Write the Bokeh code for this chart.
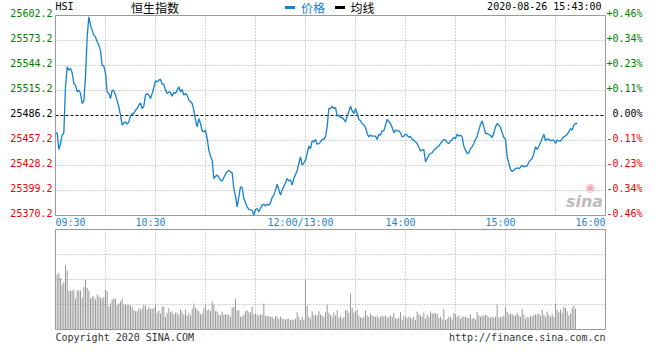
from bokeh.plotting import figure
from bokeh.layouts import column
from bokeh.models import Range1d
from bokeh.core.properties import value
from bokeh.embed import file_html
from bokeh.resources import INLINE

# ---------------- data ----------------
title_code = "HSI"
title_name = "恒生指数"
legend_price = "价格"
legend_avg = "均线"
timestamp = "2020-08-26 15:43:00"
prev_close = 25486.2
price_ticks = [25602.2, 25573.2, 25544.2, 25515.2, 25486.2, 25457.2, 25428.2, 25399.2, 25370.2]
price_tick_labels = ["25602.2", "25573.2", "25544.2", "25515.2", "25486.2", "25457.2", "25428.2", "25399.2", "25370.2"]
pct_tick_labels = ["+0.46%", "+0.34%", "+0.23%", "+0.11%", "0.00%", "-0.11%", "-0.23%", "-0.34%", "-0.46%"]
time_labels = ["09:30", "10:30", "12:00/13:00", "14:00", "15:00", "16:00"]
time_label_minutes = [0, 60, 150, 210, 270, 330]   # trading minutes since open
session_minutes = 330
footer_left = "Copyright 2020 SINA.COM"
footer_right = "http://finance.sina.com.cn"
watermark = "sina"

# one price per trading minute from 09:30 (minute 0) to 15:43 (minute 313)
prices = [
    25466.1, 25466.1, 25446.8, 25453.7, 25463.4, 25466.1, 25519.5, 25542.6, 25538.8, 25540.7,
    25535.7, 25523.3, 25521.4, 25513.7, 25515.6, 25511.7, 25500.1, 25502.8, 25531.0, 25577.4,
    25600.7, 25591.0, 25585.2, 25579.4, 25577.4, 25571.7, 25567.8, 25561.2, 25544.6, 25543.4,
    25534.9, 25513.6, 25511.7, 25505.9, 25515.6, 25514.8, 25509.8, 25503.2, 25496.3, 25486.6,
    25475.0, 25477.7, 25478.9, 25476.1, 25478.9, 25485.4, 25488.5, 25488.5, 25492.4, 25494.3,
    25498.2, 25500.9, 25494.3, 25497.0, 25509.8, 25511.7, 25509.8, 25505.9, 25511.7, 25518.7,
    25526.4, 25525.2, 25527.2, 25528.0, 25522.5, 25522.5, 25515.6, 25511.7, 25513.6, 25512.9,
    25508.6, 25512.9, 25511.7, 25515.6, 25519.5, 25513.6, 25516.4, 25509.8, 25511.7, 25509.8,
    25504.0, 25502.1, 25500.1, 25492.4, 25480.8, 25473.0, 25482.7, 25476.9, 25468.4, 25467.2,
    25469.2, 25459.5, 25446.0, 25439.0, 25434.4, 25413.1, 25415.8, 25417.0, 25414.3, 25411.2,
    25410.4, 25414.3, 25418.1, 25420.8, 25422.8, 25420.8, 25419.7, 25401.5, 25392.6, 25380.3,
    25391.9, 25403.5, 25402.7, 25389.9, 25385.0, 25380.3, 25377.2, 25376.7, 25376.4, 25370.6,
    25377.2, 25378.3, 25374.5, 25378.3, 25382.2, 25383.3, 25381.4, 25383.3, 25382.2, 25384.9,
    25391.1, 25393.8, 25399.6, 25406.5, 25400.4, 25393.8, 25399.6, 25404.2, 25408.1, 25413.1,
    25410.4, 25411.2, 25405.4, 25413.1, 25417.8, 25422.0, 25430.5, 25438.3, 25428.6, 25431.3,
    25434.4, 25442.1, 25450.6, 25447.9, 25456.8, 25455.6, 25458.4, 25452.9, 25453.7, 25455.6,
    25458.4, 25458.4, 25461.4, 25473.0, 25494.3, 25494.3, 25497.0, 25494.3, 25495.5, 25485.4,
    25486.6, 25483.9, 25483.9, 25481.6, 25478.9, 25485.4, 25490.5, 25497.0, 25491.6, 25488.5,
    25494.3, 25488.5, 25481.6, 25480.0, 25476.9, 25475.0, 25472.3, 25465.3, 25461.4, 25463.4,
    25462.2, 25462.2, 25462.2, 25458.4, 25464.5, 25463.4, 25468.4, 25468.4, 25475.0, 25481.6,
    25478.9, 25476.9, 25472.3, 25466.1, 25469.2, 25468.4, 25468.4, 25466.1, 25461.4, 25462.2,
    25464.5, 25463.4, 25460.7, 25462.2, 25458.4, 25457.6, 25455.6, 25453.7, 25449.1, 25445.2,
    25446.0, 25446.8, 25432.4, 25436.3, 25440.2, 25442.1, 25442.9, 25446.0, 25447.5, 25449.9,
    25450.6, 25453.7, 25456.4, 25458.4, 25457.6, 25454.9, 25453.7, 25456.4, 25458.4, 25460.7,
    25459.5, 25464.5, 25462.2, 25463.4, 25461.4, 25450.6, 25446.0, 25442.1, 25442.9, 25448.0,
    25449.9, 25453.7, 25458.4, 25462.2, 25469.2, 25476.1, 25480.0, 25473.0, 25465.3, 25465.3,
    25464.2, 25463.0, 25460.7, 25466.1, 25473.0, 25476.9, 25475.0, 25472.3, 25466.1, 25460.7,
    25458.4, 25438.3, 25430.5, 25423.6, 25421.2, 25422.8, 25424.7, 25425.5, 25424.7, 25425.9,
    25428.6, 25426.7, 25427.4, 25427.4, 25432.4, 25434.4, 25436.3, 25442.1, 25449.9, 25446.8,
    25450.6, 25454.5, 25459.5, 25464.5, 25456.8, 25459.1, 25458.4, 25456.8, 25457.6, 25457.6,
    25453.7, 25457.6, 25456.8, 25456.4, 25459.5, 25461.4, 25462.6, 25464.2, 25467.2, 25471.1,
    25469.2, 25475.0, 25476.9, 25476.9,
]

# one volume bar per trading minute, from minute 1 to minute 312 (relative units, panel top = 400)
volumes = [
    220, 227, 207, 180, 189, 256, 236, 153, 156, 156, 160, 124, 156, 156, 156, 127, 171, 200, 167, 156,
    124, 132, 132, 120, 140, 131, 127, 124, 129, 160, 153,
    92, 104, 120, 124, 124, 97, 104, 112, 124, 100, 99, 99, 99, 96, 91, 76, 73, 73, 85, 80,
    85, 99, 96, 80, 89, 83, 83, 85, 99, 67, 76, 64, 93, 91, 51, 67, 84, 69, 73, 60,
    67, 67, 59, 80, 73, 60, 80, 56, 67, 56, 83, 104, 87, 79, 73, 60, 64, 85, 99, 77,
    80, 73, 112, 99, 73, 73, 60, 56, 72, 59, 61, 59, 59, 51, 88, 91, 124, 77, 77, 51,
    53, 60, 73, 77, 69, 69, 91, 60, 64, 60, 56, 60, 60, 104, 53, 56, 53, 51, 51, 43,
    53, 51, 43, 51, 43, 43, 40, 43, 43, 37, 40, 37, 43, 69, 51, 37, 51, 40,
    197,
    96, 51, 43, 73, 56, 60, 56, 73, 60, 56, 51, 69, 100, 67, 59, 51, 69, 56, 77, 47,
    56, 43, 51, 77, 77, 67,
    144,
    87, 69, 73, 80, 56, 47, 47, 51, 77, 56, 51, 64, 56, 53, 51, 56, 47, 51, 56, 51,
    56, 47, 51, 56, 51, 67, 45, 43, 47, 69, 40, 56, 51, 47, 51, 47, 43, 51, 37, 72,
    60, 56, 51, 69, 43, 59, 51, 72, 64, 67, 64, 64, 47, 51, 40, 83, 37, 43, 51, 51,
    40, 67, 60, 51, 56, 43, 53, 51, 51, 47, 47, 60, 43, 47, 40, 69, 56, 51, 56, 56,
    60, 56, 51, 47, 51, 47, 51,
    99,
    47, 51, 51, 56, 91, 72, 60, 64, 61, 56, 56, 67, 56, 51, 83, 60, 43, 51, 47, 56,
    51, 59, 60, 60, 64, 56, 80, 60, 51, 72, 59, 51, 64, 51, 104, 80, 69, 80, 67, 91,
    87, 73, 56, 64, 85, 96, 83,
]
volume_max = 400
volume_grid = [100, 200, 300]

# ---------------- layout constants (pixels inside each figure) ----------------
W = 644
FL, FR = 55, 605          # chart box left / right edge
PH, PT, PB = 227, 15, 215  # price figure height, box top, box bottom
VH, VT, VB = 117, 2, 102   # volume figure height, box top, box bottom

MONO = "DejaVu Sans Mono"
CJK = "Noto Sans CJK SC"
GREEN, RED, BLACK = "#008000", "#f00000", "#000000"
BLUE = "#1580cc"
TIME_BLUE = "#1a84d6"
GRID_C = "#a8a8a8"
FRAME_C = "#9a9a9a"

pmin, pmax = min(price_ticks), max(price_ticks)


def xd(px):
    return (px - FL) * session_minutes / (FR - FL)


def yp(py):
    return pmax - (py - PT) * (pmax - pmin) / (PB - PT)


def yv(py):
    return volume_max - (py - VT) * volume_max / (VB - VT)


grid_minutes = list(range(30, session_minutes, 30))
ng = len(grid_minutes)


def base_fig(h, yr):
    f = figure(width=W, height=h, x_range=Range1d(xd(0), xd(W)), y_range=yr,
               output_backend="svg", toolbar_location=None, x_axis_location=None, y_axis_location=None,
               min_border=0, min_border_left=0, min_border_right=0, min_border_top=0, min_border_bottom=0)
    for g in f.grid:
        g.visible = False
    f.outline_line_color = None
    f.background_fill_color = "white"
    f.border_fill_color = "white"
    return f


# ---------------- price figure ----------------
p = base_fig(PH, Range1d(yp(PH), yp(0)))

hgrid_vals = [t for t in price_ticks if t not in (pmin, pmax, prev_close)]
p.segment(x0=grid_minutes, x1=grid_minutes, y0=[pmin] * ng, y1=[pmax] * ng,
          line_color=GRID_C, line_dash="1 2", line_width=1)
p.segment(x0=[0] * len(hgrid_vals), x1=[session_minutes] * len(hgrid_vals), y0=hgrid_vals, y1=hgrid_vals,
          line_color=GRID_C, line_dash="1 2", line_width=1)
p.segment(x0=[0], x1=[session_minutes], y0=[prev_close], y1=[prev_close],
          line_color="black", line_dash="3 2", line_width=1)

# sina watermark
p.text(x=[xd(590)], y=[yp(187)], text=["◉"], text_align="center", text_baseline="middle",
       text_font=value("DejaVu Sans"), text_font_size="11px", text_color="#f4a4ac")
p.text(x=[xd(584)], y=[yp(201)], text=[watermark], text_align="center", text_baseline="middle",
       text_font=value("DejaVu Sans"), text_font_style="bold italic", text_font_size="16px",
       text_color="#bdbdbd")

minutes = list(range(len(prices)))
p.line(minutes, prices, line_color=BLUE, line_width=1.3)

p.quad(left=[0], right=[session_minutes], bottom=[pmin], top=[pmax], fill_color=None,
       line_color=FRAME_C, line_width=1)

# coloured price / percent labels
lab_colors = [GREEN if t > prev_close else (BLACK if t == prev_close else RED) for t in price_ticks]
lab_y = [t + 2.5 * (pmax - pmin) / (PB - PT) for t in price_ticks]
n = len(price_ticks)
p.text(x=[0] * n, y=lab_y, text=price_tick_labels, text_color=lab_colors, text_align="right",
       text_baseline="middle", x_offset=-3, text_font=value(MONO), text_font_size="10px")
p.text(x=[session_minutes] * n, y=lab_y, text=pct_tick_labels, text_color=lab_colors, text_align="right",
       text_baseline="middle", x_offset=37, text_font=value(MONO), text_font_size="10px")

# time labels
t_align = ["left" if m == 0 else ("right" if m == session_minutes else "center") for m in time_label_minutes]
t_off = [0 if a != "center" else -5 for a in t_align]
p.text(x=time_label_minutes, y=[yp(PB + 6.7)] * len(time_labels), text=time_labels, text_align=t_align,
       x_offset=t_off, text_baseline="middle", text_color=TIME_BLUE, text_font=value(MONO),
       text_font_size="10px")

# header
p.text(x=[0], y=[yp(5.5)], text=[title_code], text_baseline="middle", text_font=value(MONO),
       text_font_size="10px", text_color="black")
p.text(x=[xd(130.5)], y=[yp(6.5)], text=[title_name], text_baseline="middle", text_font=value(CJK),
       text_font_size="12px", text_color="black")
p.rect(x=[xd(289.5)], y=[yp(7)], width=10, height=3, width_units="screen", height_units="screen",
       fill_color=BLUE, line_color=None)
p.text(x=[xd(300.5)], y=[yp(6.5)], text=[legend_price], text_baseline="middle", text_font=value(CJK),
       text_font_size="12px", text_color=BLUE)
p.rect(x=[xd(339.5)], y=[yp(7)], width=10, height=3, width_units="screen", height_units="screen",
       fill_color="black", line_color=None)
p.text(x=[xd(350)], y=[yp(6.5)], text=[legend_avg], text_baseline="middle", text_font=value(CJK),
       text_font_size="12px", text_color="black")
p.text(x=[xd(601)], y=[yp(5.5)], text=[timestamp], text_align="right", text_baseline="middle",
       text_font=value(MONO), text_font_size="10px", text_color="black")

# ---------------- volume figure ----------------
v = base_fig(VH, Range1d(yv(VH), yv(0)))
v.segment(x0=grid_minutes, x1=grid_minutes, y0=[0] * ng, y1=[volume_max] * ng,
          line_color=GRID_C, line_dash="1 2", line_width=1)
v.segment(x0=[0] * 3, x1=[session_minutes] * 3, y0=volume_grid, y1=volume_grid,
          line_color=GRID_C, line_dash="1 2", line_width=1)

vol_minutes = list(range(1, len(volumes) + 1))
v.vbar(x=vol_minutes, top=volumes, bottom=0, width=0.6, fill_color="#999999", line_color=None)

v.quad(left=[0], right=[session_minutes], bottom=[0], top=[volume_max], fill_color=None,
       line_color=FRAME_C, line_width=1)

fy = yv(VB + 7.5)
v.text(x=[0], y=[fy], text=[footer_left], text_baseline="middle", text_font=value(MONO),
       text_font_size="10px", text_color="#333333")
v.text(x=[session_minutes], y=[fy], text=[footer_right], text_align="right", text_baseline="middle",
       text_font=value(MONO), text_font_size="10px", text_color="#333333")

layout = column(p, v, spacing=0)
open("out.html", "w").write(file_html(layout, INLINE))
